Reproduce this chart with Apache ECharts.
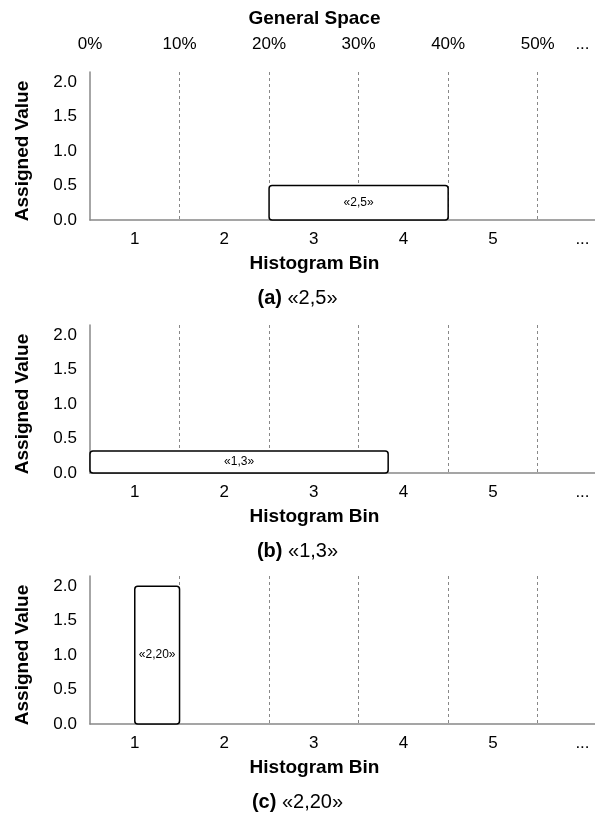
<!DOCTYPE html>
<html>
<head>
<meta charset="utf-8">
<script src="https://cdn.jsdelivr.net/npm/echarts@6/dist/echarts.min.js"></script>
<style>
  html, body { margin: 0; padding: 0; background: #fff; }
  #chart { width: 595px; height: 823px; }
</style>
</head>
<body>
<div id="chart"></div>
<script>
const bins = ['1', '2', '3', '4', '5', '...']
const spaceLabels = ['0%', '10%', '20%', '30%', '40%', '50%', '...']

const boxStart = [2.5, 0.5, 1.0]
const boxEnd = [4.5, 3.83, 1.5]
const boxValue = [0.5, 0.32, 2.0]
const boxLabel = ['«2,5»', '«1,3»', '«2,20»']
const captionTag = ['(a)', '(b)', '(c)']
const captionText = ['«2,5»', '«1,3»', '«2,20»']

const FONT = '"Liberation Sans", Arial, sans-serif'
const X_MIN = 0.5
const X_MAX = 6.14
const Y_MAX = 2.15
const gridTops = [72, 325, 576]
const GRID_H = 148

const chart = echarts.init(document.getElementById('chart'))

const grids = []
const xAxes = []
const yAxes = []
const series = []
const graphics = []

gridTops.forEach((top, i) => {
  grids.push({ left: 90, right: 0, top: top, height: GRID_H })

  // bottom axis: bin labels
  xAxes.push({
    type: 'value',
    gridIndex: i,
    position: 'bottom',
    min: X_MIN,
    max: X_MAX,
    interval: 0.5,
    name: 'Histogram Bin',
    nameLocation: 'middle',
    nameGap: 34,
    nameTextStyle: {
      fontFamily: FONT,
      fontSize: 19,
      fontWeight: 'bold',
      color: '#000',
      padding: [0, 56, 0, 0],
    },
    axisLine: { show: true, lineStyle: { color: '#888', width: 1.5 } },
    axisTick: { show: false },
    splitLine: { show: false },
    axisLabel: {
      fontFamily: FONT,
      fontSize: 17,
      color: '#000',
      margin: 11,
      showMaxLabel: false,
      formatter: (v) => {
        const r = Math.round(v)
        if (Math.abs(v - r) > 1e-6 || r < 1 || r > bins.length) return ''
        return bins[r - 1]
      },
    },
  })

  // dashed bin boundaries
  xAxes.push({
    type: 'value',
    gridIndex: i,
    position: 'top',
    min: X_MIN,
    max: X_MAX,
    interval: 1,
    axisLine: { show: false },
    axisTick: { show: false },
    axisLabel: { show: false },
    splitLine: {
      show: true,
      showMinLine: false,
      showMaxLine: false,
      lineStyle: { color: '#888', type: [3, 3], width: 1 },
    },
  })

  yAxes.push({
    type: 'value',
    gridIndex: i,
    min: 0,
    max: Y_MAX,
    interval: 0.5,
    name: 'Assigned Value',
    nameLocation: 'middle',
    nameGap: 58,
    nameTextStyle: {
      fontFamily: FONT,
      fontSize: 19,
      fontWeight: 'bold',
      color: '#000',
      padding: [0, 10, 0, 0],
    },
    axisLine: { show: true, lineStyle: { color: '#888', width: 1.5 } },
    axisTick: { show: false },
    splitLine: { show: false },
    axisLabel: {
      fontFamily: FONT,
      fontSize: 17,
      color: '#000',
      margin: 13,
      formatter: (v) => {
        if (Math.abs(v * 2 - Math.round(v * 2)) > 1e-6) return ''
        return v.toFixed(1)
      },
    },
  })

  series.push({
    type: 'custom',
    xAxisIndex: i * 2,
    yAxisIndex: i,
    z: 5,
    data: [[boxStart[i], boxEnd[i], boxValue[i]]],
    renderItem: (params, api) => {
      const p0 = api.coord([api.value(0), 0])
      const p1 = api.coord([api.value(1), api.value(2)])
      return {
        type: 'rect',
        shape: {
          x: p0[0],
          y: p1[1],
          width: p1[0] - p0[0],
          height: p0[1] - p1[1],
          r: 3,
        },
        style: { fill: '#fff', stroke: '#000', lineWidth: 1.5 },
        textContent: {
          style: {
            text: boxLabel[i],
            fill: '#000',
            fontSize: 12,
            fontFamily: FONT,
          },
        },
        textConfig: { position: 'inside' },
      }
    },
  })

  graphics.push({
    type: 'text',
    left: 'center',
    top: top + 216,
    style: {
      text: '{b|' + captionTag[i] + '} ' + captionText[i],
      rich: {
        b: { fontFamily: FONT, fontSize: 20, fontWeight: 'bold', fill: '#000' },
      },
      fontFamily: FONT,
      fontSize: 20,
      fill: '#000',
    },
  })
})

// General Space axis above the first panel
xAxes.push({
  type: 'value',
  gridIndex: 0,
  position: 'top',
  min: X_MIN,
  max: X_MAX,
  interval: 0.5,
  name: 'General Space',
  nameLocation: 'middle',
  nameGap: 44,
  nameTextStyle: {
    fontFamily: FONT,
    fontSize: 19,
    fontWeight: 'bold',
    color: '#000',
    padding: [0, 56, 0, 0],
  },
  axisLine: { show: false },
  axisTick: { show: false },
  splitLine: { show: false },
  axisLabel: {
    fontFamily: FONT,
    fontSize: 17,
    color: '#000',
    margin: 19,
    showMaxLabel: false,
    formatter: (v) => {
      const k = Math.round(v - 0.5)
      if (Math.abs(v - 0.5 - k) < 1e-6 && k >= 0 && k < spaceLabels.length - 1) return spaceLabels[k]
      if (Math.abs(v - 6) < 1e-6) return spaceLabels[spaceLabels.length - 1]
      return ''
    },
  },
})

chart.setOption({
  animation: false,
  grid: grids,
  xAxis: xAxes,
  yAxis: yAxes,
  series: series,
  graphic: graphics,
})
</script>
</body>
</html>
